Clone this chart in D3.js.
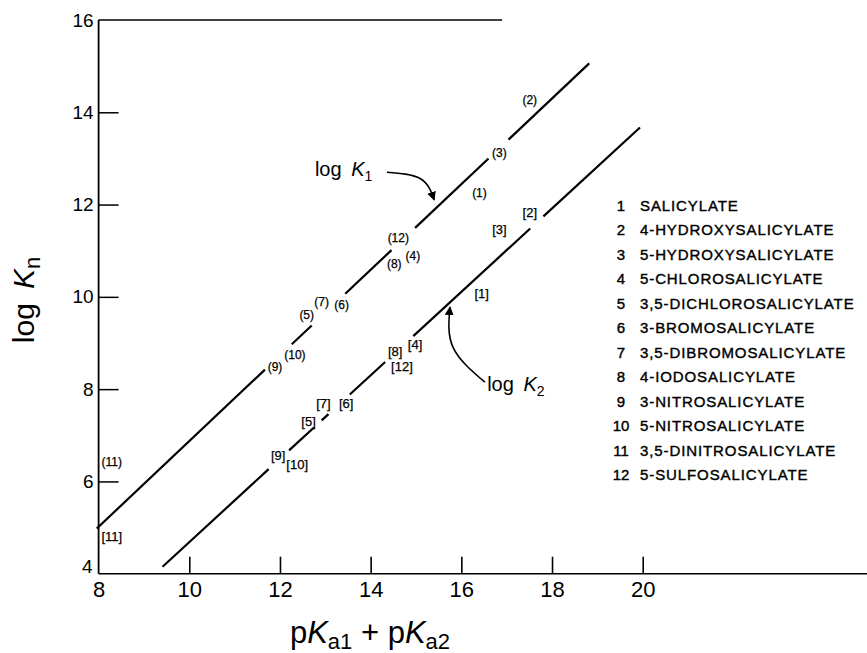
<!DOCTYPE html>
<html>
<head>
<meta charset="utf-8">
<script src="https://cdn.jsdelivr.net/npm/d3@7"></script>
<style>
  html, body { margin: 0; padding: 0; background: #fff; }
  svg { display: block; }
  text { font-family: "Liberation Sans", Arial, sans-serif; fill: #000; }
</style>
</head>
<body>
<svg id="chart" width="867" height="653"></svg>
<script>
// Compound numbers and names (legend)
const compoundIds = [1, 2, 3, 4, 5, 6, 7, 8, 9, 10, 11, 12];
const compoundNames = [
  "SALICYLATE",
  "4-HYDROXYSALICYLATE",
  "5-HYDROXYSALICYLATE",
  "5-CHLOROSALICYLATE",
  "3,5-DICHLOROSALICYLATE",
  "3-BROMOSALICYLATE",
  "3,5-DIBROMOSALICYLATE",
  "4-IODOSALICYLATE",
  "3-NITROSALICYLATE",
  "5-NITROSALICYLATE",
  "3,5-DINITROSALICYLATE",
  "5-SULFOSALICYLATE"
];

// log K1 points: pKa1 + pKa2 and log K1 for each compound
const k1X = [16.40, 17.51, 16.84, 14.93, 12.59, 13.36, 12.92, 14.52, 11.89, 12.33, 8.29, 14.61];
const k1Y = [12.24, 14.27, 13.12, 10.89, 9.61, 9.82, 9.89, 10.71, 8.49, 8.74, 6.43, 11.27];
// log K2 points
const k2X = [16.45, 17.51, 16.84, 14.98, 12.63, 13.46, 12.96, 14.54, 11.96, 12.38, 8.29, 14.69];
const k2Y = [10.08, 11.82, 11.45, 8.96, 7.29, 7.69, 7.69, 8.81, 6.57, 6.36, 4.80, 8.49];

// Correlation lines (end points) and the stretches actually inked between labels
const k1LineEnds = [[7.96, 4.98], [18.82, 15.06]];
const k1Pieces = [[7.96, 11.67], [12.26, 12.70], [13.44, 14.46], [14.98, 16.60], [17.04, 18.82]];
const k2LineEnds = [[9.41, 4.15], [19.94, 13.67]];
const k2Pieces = [[9.41, 11.75], [12.20, 12.75], [12.92, 13.07], [13.54, 14.32], [14.94, 17.52], [17.81, 19.94]];

// Axis ticks
const xTicks = [10, 12, 14, 16, 18, 20];
const xTickLabels = [8, 10, 12, 14, 16, 18, 20];
const yTicks = [6, 8, 10, 12, 14];
const yTickLabels = [4, 6, 8, 10, 12, 14, 16];

// Line name annotations and their curved arrows (data coordinates)
const k1NameAt = [12.77, 12.62];
const k1Arrow = [[14.36, 12.70], [15.10, 12.56], [15.40, 12.10]];
const k2NameAt = [16.57, 7.96];
const k2Arrow = [[16.52, 8.15], [15.82, 8.90], [15.75, 9.78]];

const svg = d3.select("#chart");
const W = 867, H = 653;

const x = d3.scaleLinear().domain([8, 20]).range([98.6, 642.7]);
const y = d3.scaleLinear().domain([4, 16]).range([573.7, 20]);

// Arrowhead marker
svg.append("defs").append("marker")
  .attr("id", "head")
  .attr("viewBox", "0 0 10 10")
  .attr("refX", 9).attr("refY", 5)
  .attr("markerWidth", 9).attr("markerHeight", 9)
  .attr("markerUnits", "userSpaceOnUse")
  .attr("orient", "auto")
  .append("path").attr("d", "M0,0 L10,5 L0,10 Z").attr("fill", "#000");

// Frame: left axis, bottom axis running to the page edge, top rule
const frame = svg.append("g").attr("stroke", "#000").attr("fill", "none");
frame.append("line")
  .attr("x1", x(8)).attr("x2", x(8)).attr("y1", y(4)).attr("y2", y(16))
  .attr("stroke-width", 1.8);
frame.append("line")
  .attr("x1", x(8)).attr("x2", W).attr("y1", y(4)).attr("y2", y(4))
  .attr("stroke-width", 1.6);
frame.append("line")
  .attr("x1", x(8)).attr("x2", x(16.9)).attr("y1", y(16)).attr("y2", y(16))
  .attr("stroke-width", 1.5);

// Bottom axis: ticks pointing up into the plot
const xAxis = d3.axisBottom(x)
  .tickValues(xTicks).tickSize(-17).tickSizeOuter(0).tickFormat("");
const gx = svg.append("g").attr("transform", `translate(0,${y(4)})`).call(xAxis);
gx.select(".domain").remove();
gx.selectAll(".tick line").attr("stroke", "#000").attr("stroke-width", 1.6);

const xLab = d3.axisBottom(x).tickValues(xTickLabels).tickSize(0).tickPadding(8).tickFormat(d3.format("d"));
const gxl = svg.append("g").attr("transform", `translate(0,${y(4)})`).call(xLab);
gxl.select(".domain").remove();
gxl.selectAll("text").attr("font-size", 22).attr("font-family", "Liberation Sans, Arial, sans-serif");

// Left axis: ticks pointing right into the plot
const yAxis = d3.axisLeft(y).tickValues(yTicks).tickSize(-20).tickSizeOuter(0).tickFormat("");
const gy = svg.append("g").attr("transform", `translate(${x(8)},0)`).call(yAxis);
gy.select(".domain").remove();
gy.selectAll(".tick line").attr("stroke", "#000").attr("stroke-width", 1.5);

const yLab = d3.axisLeft(y).tickValues(yTickLabels).tickSize(0).tickPadding(5).tickFormat(d3.format("d"));
const gyl = svg.append("g").attr("transform", `translate(${x(8)},0)`).call(yLab);
gyl.select(".domain").remove();
gyl.selectAll("text").attr("font-size", 19).attr("font-family", "Liberation Sans, Arial, sans-serif");
gyl.selectAll(".tick").filter(d => d === 4).select("text").attr("dy", "-0.05em").attr("x", -6);

// Correlation lines, drawn piecewise so the numbered labels sit in the gaps
function lineValueAt(ends, xv) {
  const [[x0, y0], [x1, y1]] = ends;
  return y0 + (y1 - y0) * (xv - x0) / (x1 - x0);
}
const seg = d3.line().x(d => x(d[0])).y(d => y(d[1]));
[[k1LineEnds, k1Pieces], [k2LineEnds, k2Pieces]].forEach(([ends, pieces]) => {
  svg.append("g").selectAll("path")
    .data(pieces)
    .join("path")
    .attr("d", p => seg([[p[0], lineValueAt(ends, p[0])], [p[1], lineValueAt(ends, p[1])]]))
    .attr("stroke", "#000").attr("stroke-width", 2.2).attr("fill", "none");
});

// Numbered point labels: (n) for log K1, [n] for log K2
svg.append("g").selectAll("text")
  .data(compoundIds)
  .join("text")
  .attr("x", (d, i) => x(k1X[i]))
  .attr("y", (d, i) => y(k1Y[i]))
  .attr("text-anchor", "middle")
  .attr("dominant-baseline", "central")
  .attr("font-size", 12)
  .attr("stroke", "#000").attr("stroke-width", 0.25)
  .text(d => `(${d})`);

svg.append("g").selectAll("text")
  .data(compoundIds)
  .join("text")
  .attr("x", (d, i) => x(k2X[i]))
  .attr("y", (d, i) => y(k2Y[i]))
  .attr("text-anchor", "middle")
  .attr("dominant-baseline", "central")
  .attr("font-size", 13)
  .attr("stroke", "#000").attr("stroke-width", 0.25)
  .text(d => `[${d}]`);

// "log K1" / "log K2" names with curved arrows to their lines
function lineName(at, sub) {
  const t = svg.append("text")
    .attr("x", x(at[0])).attr("y", y(at[1]))
    .attr("font-size", 20);
  t.append("tspan").text("log ");
  t.append("tspan").attr("font-style", "italic").attr("dx", 4).text("K");
  t.append("tspan").attr("font-size", 14).attr("dy", 5).text(sub);
}
lineName(k1NameAt, "1");
lineName(k2NameAt, "2");

const curve = d3.line().x(d => x(d[0])).y(d => y(d[1])).curve(d3.curveNatural);
[k1Arrow, k2Arrow].forEach(pts => {
  svg.append("path")
    .attr("d", curve(pts))
    .attr("stroke", "#000").attr("stroke-width", 1.6).attr("fill", "none")
    .attr("marker-end", "url(#head)");
});

// Legend
const legend = svg.append("g").attr("transform", "translate(0,205)");
const rows = legend.selectAll("g")
  .data(compoundIds)
  .join("g")
  .attr("transform", (d, i) => `translate(0,${i * 24.5})`);
rows.append("text")
  .attr("x", 621).attr("dominant-baseline", "central")
  .attr("text-anchor", "middle")
  .attr("font-size", 15)
  .attr("stroke", "#000").attr("stroke-width", 0.4)
  .text(d => d);
rows.append("text")
  .attr("x", 640).attr("dominant-baseline", "central")
  .attr("font-size", 15)
  .attr("letter-spacing", 0.9)
  .attr("stroke", "#000").attr("stroke-width", 0.4)
  .text((d, i) => compoundNames[i]);

// Axis titles
const yTitle = svg.append("text")
  .attr("transform", `translate(34,${300}) rotate(-90)`)
  .attr("text-anchor", "middle")
  .attr("font-size", 30);
yTitle.append("tspan").text("log");
yTitle.append("tspan").attr("dx", 14).attr("font-style", "italic").text("K");
yTitle.append("tspan").attr("font-size", 22).attr("dy", 6).text("n");

const xTitle = svg.append("text")
  .attr("x", 370).attr("y", 643)
  .attr("text-anchor", "middle")
  .attr("font-size", 31);
xTitle.append("tspan").text("p");
xTitle.append("tspan").attr("font-style", "italic").text("K");
xTitle.append("tspan").attr("font-size", 22).attr("dy", 6).text("a1");
xTitle.append("tspan").attr("dy", -6).text(" + p");
xTitle.append("tspan").attr("font-style", "italic").text("K");
xTitle.append("tspan").attr("font-size", 22).attr("dy", 6).text("a2");
</script>
</body>
</html>
